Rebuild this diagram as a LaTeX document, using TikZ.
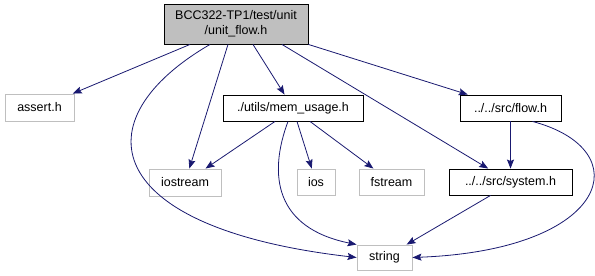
\documentclass[tikz,border=0pt]{standalone}
\usepackage{fontspec}
\setmainfont{Liberation Sans}
\usepackage{tikz}
\usetikzlibrary{arrows.meta}

\definecolor{edgeblue}{HTML}{191970}
\definecolor{nodegray}{HTML}{BFBFBF}

\begin{document}
\begin{tikzpicture}[x=1pt,y=-1pt,
  font=\fontsize{12.5}{15}\selectfont,
  hdr/.style={draw=black,line width=0.9pt,inner sep=0pt},
  ext/.style={draw=nodegray,line width=0.9pt,inner sep=0pt},
  inc/.style={draw=edgeblue,line width=0.8pt,-{Stealth[length=9pt,width=7pt,inset=1.5pt]}}]
\useasboundingbox (0,0) rectangle (595,276);
\node (root) at (236,24) [hdr,fill=nodegray,minimum width=144pt,minimum height=40pt,align=center] {BCC322-TP1/test/unit\\/unit\_flow.h};
\node (assert) at (39.5,107.5) [ext,minimum width=69pt,minimum height=27pt] {assert.h};
\node (memusage) at (293,108) [hdr,minimum width=140pt,minimum height=26pt] {./utils/mem\_usage.h};
\node (flow) at (510.5,108) [hdr,minimum width=101pt,minimum height=26pt] {../../src/flow.h};
\node (iostream) at (185,182.5) [ext,minimum width=72pt,minimum height=27pt] {iostream};
\node (ios) at (316,182) [ext,minimum width=38pt,minimum height=26pt] {ios};
\node (fstream) at (391.5,182) [ext,minimum width=65pt,minimum height=26pt] {fstream};
\node (system) at (510.5,182) [hdr,minimum width=123pt,minimum height=26pt] {../../src/system.h};
\node (string) at (384.5,257.5) [ext,minimum width=55pt,minimum height=25pt] {string};
% includes of unit_flow.h
\draw [inc] ([xshift=-46pt]root.south) -- (assert);
\draw [inc] ([xshift=-26pt]root.south) .. controls (80,120) and (100,228) .. (string.west);
\draw [inc] ([xshift=-8pt]root.south) -- (iostream);
\draw [inc] ([xshift=17pt]root.south) -- (memusage);
\draw [inc] ([xshift=46pt]root.south) -- (system);
\draw [inc] (root.south east) -- (flow);
% includes of mem_usage.h
\draw [inc] ([xshift=-18pt]memusage.south) -- (iostream);
\draw [inc] ([xshift=-5pt]memusage.south) .. controls (268,175) and (275,228) .. (string.north west);
\draw [inc] ([xshift=4pt]memusage.south) -- (ios);
\draw [inc] ([xshift=17pt]memusage.south) -- (fstream);
% flow.h and system.h
\draw [inc] (flow) -- (system);
\draw [inc] ([xshift=22pt]flow.south) .. controls (640,150) and (610,250) .. (string.east);
\draw [inc] ([xshift=-20pt]system.south) -- (string);
\end{tikzpicture}
\end{document}
